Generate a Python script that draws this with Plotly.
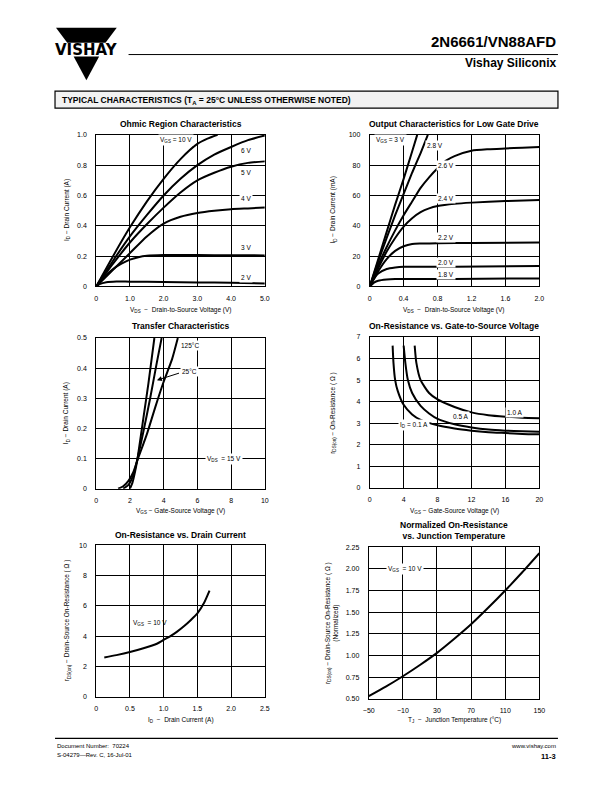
import plotly.graph_objects as go

# ---------------- DATA ----------------
# Ohmic region (VDS in V, ID in A)
ohm_vds_10 = [0, 0.5, 1.0, 1.5, 2.0, 2.5, 3.0, 3.3, 3.6]
ohm_id_10 = [0, 0.20, 0.39, 0.56, 0.71, 0.84, 0.94, 0.975, 1.0]
ohm_vds_6 = [0, 0.5, 1.0, 1.5, 2.0, 2.5, 3.0, 3.5, 4.0, 4.5, 5.0]
ohm_id_6 = [0, 0.17, 0.33, 0.47, 0.60, 0.71, 0.80, 0.87, 0.92, 0.965, 0.995]
ohm_vds_5 = [0, 0.5, 1.0, 1.5, 2.0, 2.5, 3.0, 3.5, 4.0, 4.5, 5.0]
ohm_id_5 = [0, 0.15, 0.29, 0.41, 0.52, 0.62, 0.70, 0.75, 0.79, 0.815, 0.825]
ohm_vds_4 = [0, 0.5, 1.0, 1.5, 2.0, 2.5, 3.0, 3.5, 4.0, 4.5, 5.0]
ohm_id_4 = [0, 0.11, 0.22, 0.33, 0.415, 0.46, 0.485, 0.50, 0.51, 0.515, 0.52]
ohm_vds_3 = [0, 0.25, 0.5, 0.75, 1.0, 1.25, 1.5, 2.0, 3.0, 4.0, 5.0]
ohm_id_3 = [0, 0.065, 0.115, 0.15, 0.177, 0.193, 0.202, 0.207, 0.207, 0.206, 0.205]
ohm_vds_2 = [0, 0.1, 0.3, 0.6, 1.0, 2.0, 3.0, 4.0, 5.0]
ohm_id_2 = [0, 0.015, 0.028, 0.033, 0.032, 0.03, 0.027, 0.024, 0.02]
ohm_labels = ["V<sub>GS</sub> = 10 V", "6 V", "5 V", "4 V", "3 V", "2 V"]
ohm_label_x = [2.37, 4.45, 4.45, 4.45, 4.45, 4.45]
ohm_label_y = [0.965, 0.895, 0.75, 0.58, 0.26, 0.06]

# Output characteristics, low gate drive (VDS in V, ID in mA)
out_vds_30 = [0, 0.1, 0.2, 0.3, 0.4, 0.5, 0.56]
out_id_30 = [0, 18, 36, 54, 71, 89, 100]
out_vds_28 = [0, 0.1, 0.2, 0.3, 0.4, 0.5, 0.6, 0.685]
out_id_28 = [0, 16.5, 32, 47, 61, 75, 88, 100]
out_vds_26 = [0, 0.1, 0.2, 0.3, 0.4, 0.5, 0.6, 0.7, 0.8, 0.9, 1.0, 1.2, 1.4, 1.6, 1.8, 2.0]
out_id_26 = [0, 14, 26, 37, 47, 56, 65, 72, 78, 83, 86, 89.5, 90.5, 91, 91.5, 92]
out_vds_24 = [0, 0.1, 0.2, 0.3, 0.4, 0.5, 0.6, 0.7, 0.8, 1.0, 1.2, 1.6, 2.0]
out_id_24 = [0, 12, 23, 32, 39.5, 45, 49, 51.5, 53, 54.5, 55.3, 56.3, 57]
out_vds_22 = [0, 0.1, 0.2, 0.3, 0.4, 0.5, 0.6, 0.8, 1.2, 2.0]
out_id_22 = [0, 10, 18, 23.5, 26.5, 28, 28.3, 28.5, 28.7, 29]
out_vds_20 = [0, 0.05, 0.1, 0.2, 0.3, 0.4, 1.0, 2.0]
out_id_20 = [0, 5, 8.5, 11.5, 12.5, 13, 13, 13.5]
out_vds_18 = [0, 0.05, 0.1, 0.2, 0.3, 1.0, 2.0]
out_id_18 = [0, 2.5, 3.8, 4.6, 4.9, 5.0, 5.3]
out_labels = ["V<sub>GS</sub> = 3 V", "2.8 V", "2.6 V", "2.4 V", "2.2 V", "2.0 V", "1.8 V"]
out_label_x = [0.24, 0.77, 0.90, 0.90, 0.90, 0.90, 0.90]
out_label_y = [96.5, 93, 80, 58, 32.5, 16, 8]

# Transfer characteristics (VGS in V, ID in A)
tr_vgs_m55 = [2.0, 2.15, 2.3, 2.45, 2.8, 3.1, 3.45]
tr_id_m55 = [0, 0.02, 0.055, 0.1, 0.235, 0.35, 0.5]
tr_vgs_25 = [1.6, 1.9, 2.2, 2.45, 2.8, 3.2, 3.6, 3.88]
tr_id_25 = [0, 0.012, 0.045, 0.1, 0.19, 0.30, 0.42, 0.5]
tr_vgs_125 = [1.3, 1.6, 1.9, 2.2, 2.45, 3.0, 3.5, 4.0, 4.5, 4.84]
tr_id_125 = [0, 0.008, 0.025, 0.055, 0.095, 0.18, 0.27, 0.355, 0.43, 0.5]

# On-resistance vs gate-source voltage (VGS in V, rDS in ohm)
rg_vgs_01 = [2.7, 2.8, 3.0, 3.3, 4.0, 5.0, 6.0, 8.0, 10, 12, 14, 16, 18, 20]
rg_r_01 = [6.6, 5.8, 5.0, 4.5, 3.85, 3.4, 3.15, 2.9, 2.75, 2.65, 2.58, 2.54, 2.5, 2.48]
rg_vgs_05 = [4.0, 4.2, 4.5, 5.0, 6.0, 7.0, 8.0, 10, 12, 14, 16, 18, 20]
rg_r_05 = [6.6, 5.8, 5.0, 4.4, 3.8, 3.45, 3.2, 2.95, 2.8, 2.7, 2.65, 2.62, 2.6]
rg_vgs_10 = [5.3, 5.5, 6.0, 7.0, 8.0, 10, 12, 14, 16, 18, 20]
rg_r_10 = [6.6, 5.8, 5.0, 4.4, 4.1, 3.75, 3.5, 3.37, 3.3, 3.25, 3.23]

# On-resistance vs drain current (ID in A, rDS in ohm)
rd_id = [0.12, 0.3, 0.5, 0.7, 0.9, 1.0, 1.1, 1.2, 1.3, 1.4, 1.5, 1.6, 1.68]
rd_r = [2.6, 2.75, 2.95, 3.2, 3.5, 3.75, 4.0, 4.3, 4.65, 5.05, 5.5, 6.2, 7.0]

# Normalized on-resistance vs junction temperature
nt_tj = [-50, -30, -10, 10, 30, 50, 70, 90, 110, 130, 150]
nt_r = [0.53, 0.64, 0.76, 0.89, 1.03, 1.19, 1.36, 1.55, 1.75, 1.96, 2.18]

# Tick labels
ohm_xt = [0, 1, 2, 3, 4, 5]; ohm_xl = ["0", "1.0", "2.0", "3.0", "4.0", "5.0"]
ohm_yt = [0, 0.2, 0.4, 0.6, 0.8, 1.0]; ohm_yl = ["0", "0.2", "0.4", "0.6", "0.8", "1.0"]
out_xt = [0, 0.4, 0.8, 1.2, 1.6, 2.0]; out_xl = ["0", "0.4", "0.8", "1.2", "1.6", "2.0"]
out_yt = [0, 20, 40, 60, 80, 100]; out_yl = ["0", "20", "40", "60", "80", "100"]
tr_xt = [0, 2, 4, 6, 8, 10]; tr_xl = ["0", "2", "4", "6", "8", "10"]
tr_yt = [0, 0.1, 0.2, 0.3, 0.4, 0.5]; tr_yl = ["0", "0.1", "0.2", "0.3", "0.4", "0.5"]
rg_xt = [0, 4, 8, 12, 16, 20]; rg_xl = ["0", "4", "8", "12", "16", "20"]
rg_yt = [0, 1, 2, 3, 4, 5, 6, 7]; rg_yl = ["0", "1", "2", "3", "4", "5", "6", "7"]
rd_xt = [0, 0.5, 1.0, 1.5, 2.0, 2.5]; rd_xl = ["0", "0.5", "1.0", "1.5", "2.0", "2.5"]
rd_yt = [0, 2, 4, 6, 8, 10]; rd_yl = ["0", "2", "4", "6", "8", "10"]
nt_xt = [-50, -10, 30, 70, 110, 150]; nt_xl = ["\u221250", "\u221210", "30", "70", "110", "150"]
nt_yt = [0.5, 0.75, 1.0, 1.25, 1.5, 1.75, 2.0, 2.25]
nt_yl = ["0.50", "0.75", "1.00", "1.25", "1.50", "1.75", "2.00", "2.25"]

# ---------------- LAYOUT HELPERS ----------------
W, H = 612, 792
FONT = "Liberation Sans, Arial, Helvetica, sans-serif"
NARROW = "Liberation Sans Narrow, Liberation Sans, Arial, sans-serif"


def X(px):
    return px / W


def Y(py):
    return 1 - py / H


fig = go.Figure()

panels = [
    ("1", (92, 264), (132, 285), [0, 5], [0, 1.0], ohm_xt, ohm_xl, ohm_yt, ohm_yl),
    ("2", (371, 544), (132, 285), [0, 2], [0, 100], out_xt, out_xl, out_yt, out_yl),
    ("3", (92, 264), (337, 489), [0, 10], [0, 0.5], tr_xt, tr_xl, tr_yt, tr_yl),
    ("4", (371, 544), (336, 488), [0, 20], [0, 7], rg_xt, rg_xl, rg_yt, rg_yl),
    ("5", (92, 264), (546, 699), [0, 2.5], [0, 10], rd_xt, rd_xl, rd_yt, rd_yl),
    ("6", (370, 544), (548, 701), [-50, 150], [0.5, 2.25], nt_xt, nt_xl, nt_yt, nt_yl),
]

layout_axes = {}
for name, xp, yp, xr, yr, xt, xl, yt, yl in panels:
    xk = "xaxis" if name == "1" else "xaxis" + name
    yk = "yaxis" if name == "1" else "yaxis" + name
    layout_axes[xk] = dict(
        domain=[X(xp[0]), X(xp[1])], anchor="y" if name == "1" else "y" + name,
        range=xr, tickvals=xt, ticktext=xl, showgrid=True, gridcolor="black", gridwidth=1,
        showline=True, linecolor="black", linewidth=1, mirror=True, zeroline=False,
        ticks="", tickfont=dict(family=FONT, size=7, color="black"), ticklabelstandoff=5,
        fixedrange=True,
    )
    layout_axes[yk] = dict(
        domain=[Y(yp[1]), Y(yp[0])], anchor="x" if name == "1" else "x" + name,
        range=yr, tickvals=yt, ticktext=yl, showgrid=True, gridcolor="black", gridwidth=1,
        showline=True, linecolor="black", linewidth=1, mirror=True, zeroline=False,
        ticks="", tickfont=dict(family=FONT, size=7, color="black"), ticklabelstandoff=7,
        fixedrange=True,
    )


def add_line(x, y, ax="1", width=2.0):
    xa = "x" if ax == "1" else "x" + ax
    ya = "y" if ax == "1" else "y" + ax
    fig.add_trace(go.Scatter(x=x, y=y, xaxis=xa, yaxis=ya, mode="lines",
                             line=dict(color="black", width=width, shape="spline", smoothing=0.6),
                             showlegend=False, hoverinfo="skip"))


for xs, ys in [(ohm_vds_10, ohm_id_10), (ohm_vds_6, ohm_id_6), (ohm_vds_5, ohm_id_5),
               (ohm_vds_4, ohm_id_4), (ohm_vds_3, ohm_id_3), (ohm_vds_2, ohm_id_2)]:
    add_line(xs, ys, "1")
for xs, ys in [(out_vds_30, out_id_30), (out_vds_28, out_id_28), (out_vds_26, out_id_26),
               (out_vds_24, out_id_24), (out_vds_22, out_id_22), (out_vds_20, out_id_20),
               (out_vds_18, out_id_18)]:
    add_line(xs, ys, "2")
for xs, ys in [(tr_vgs_m55, tr_id_m55), (tr_vgs_25, tr_id_25), (tr_vgs_125, tr_id_125)]:
    add_line(xs, ys, "3")
for xs, ys in [(rg_vgs_01, rg_r_01), (rg_vgs_05, rg_r_05), (rg_vgs_10, rg_r_10)]:
    add_line(xs, ys, "4")
add_line(rd_id, rd_r, "5")
add_line(nt_tj, nt_r, "6")

ann = []


def lab(text, x, y, ax, size=6.5, bg="white", **kw):
    xa = "x" if ax == "1" else "x" + ax
    ya = "y" if ax == "1" else "y" + ax
    d = dict(text=text, x=x, y=y, xref=xa, yref=ya, showarrow=False,
             font=dict(family=FONT, size=size, color="black"), bgcolor=bg, borderpad=1)
    d.update(kw)
    ann.append(d)


for t, lx, ly in zip(ohm_labels, ohm_label_x, ohm_label_y):
    lab(t, lx, ly, "1")
for t, lx, ly in zip(out_labels, out_label_x, out_label_y):
    lab(t, lx, ly, "2")
lab("125\u00b0C", 5.55, 0.475, "3")
lab("25\u00b0C", 5.55, 0.39, "3")
ann.append(dict(x=3.6, y=0.36, xref="x3", yref="y3", ax=5.0, ay=0.385, axref="x3", ayref="y3",
                showarrow=True, arrowhead=2, arrowsize=1.0, arrowwidth=1, arrowcolor="black", text=""))
lab("V<sub>DS</sub>  = 15 V", 7.6, 0.1, "3")
lab("1.0 A", 17.1, 3.5, "4")
lab("0.5 A", 10.7, 3.3, "4")
lab("I<sub>D</sub> = 0.1 A", 5.2, 2.9, "4")
lab("V<sub>GS</sub>  = 10 V", 0.8, 4.9, "5", bg="rgba(0,0,0,0)")
lab("V<sub>GS</sub>  = 10 V", -8, 2.0, "6")


def pann(text, px, py, size=7, bold=False, family=FONT, angle=0, xanchor="center", yanchor="middle", align="center"):
    t = "<b>" + text + "</b>" if bold else text
    ann.append(dict(text=t, x=X(px), y=Y(py), xref="paper", yref="paper", showarrow=False,
                    font=dict(family=family, size=size, color="black"), textangle=angle,
                    xanchor=xanchor, yanchor=yanchor, align=align))


# chart titles
pann("Ohmic Region Characteristics", 178, 121, size=8.5, bold=True, family=NARROW)
pann("Output Characteristics for Low Gate Drive", 457, 121, size=8.5, bold=True, family=NARROW)
pann("Transfer Characteristics", 178, 325, size=8.5, bold=True, family=NARROW)
pann("On-Resistance vs. Gate-to-Source Voltage", 457, 325, size=8.5, bold=True, family=NARROW)
pann("On-Resistance vs. Drain Current", 178, 536, size=8.5, bold=True, family=NARROW)
pann("Normalized On-Resistance<br>vs. Junction Temperature", 457, 531, size=8.5, bold=True, family=NARROW)

# axis titles
xt_ds = "V<sub>DS</sub>  \u2212  Drain-to-Source Voltage (V)"
pann(xt_ds, 178, 309, size=6.5)
pann(xt_ds, 457, 309, size=6.5)
pann("V<sub>GS</sub> \u2212 Gate-Source Voltage (V)", 178, 512, size=6.5)
pann("V<sub>GS</sub> \u2212 Gate-Source Voltage (V)", 457, 512, size=6.5)
pann("I<sub>D</sub>  \u2212  Drain Current (A)", 178, 722, size=6.5)
pann("T<sub>J</sub>  \u2212  Junction Temperature (\u00b0C)", 457, 722, size=6.5)
pann("I<sub>D</sub> \u2212 Drain Current (A)", 62, 208, size=6.5, angle=-90)
pann("I<sub>D</sub> \u2212 Drain Current (mA)", 334, 208, size=6.5, angle=-90)
pann("I<sub>D</sub> \u2212 Drain Current (A)", 62, 413, size=6.5, angle=-90)
pann("r<sub>DS(on)</sub> \u2212 On-Resistance ( \u03a9 )", 334, 412, size=6.5, angle=-90)
pann("r<sub>DS(on)</sub> \u2212 Drain-Source On-Resistance ( \u03a9 )", 62, 622, size=6.5, angle=-90)
pann("r<sub>DS(on)</sub> \u2212 Drain-Source On-Resistance ( \u03a9 )<br>(Normalized)", 333, 624, size=6.5, angle=-90)

# header
pann("2N6661/VN88AFD", 563, 38, size=15, bold=True, xanchor="right")
pann("Vishay Siliconix", 563, 60, size=12, bold=True, xanchor="right")
pann("VISHAY", 82, 46, size=15, bold=True, family="DejaVu Sans, Liberation Sans")
pann("TYPICAL CHARACTERISTICS (T<sub>A</sub> = 25\u00b0C UNLESS OTHERWISE NOTED)", 55, 97, size=8.5,
     bold=True, family=FONT, xanchor="left")

# footer
pann("Document Number:  70224", 50, 749, size=6, xanchor="left")
pann("S-04279\u2014Rev. C, 16-Jul-01", 50, 758, size=6, xanchor="left")
pann("www.vishay.com", 563, 749, size=6, xanchor="right")
pann("11-3", 563, 759, size=7.5, bold=True, xanchor="right")


def path(points):
    return "M " + " L ".join(f"{X(a):.5f},{Y(b):.5f}" for a, b in points) + " Z"


shapes = [
    dict(type="path", xref="paper", yref="paper",
         path=path([(51, 24), (113, 24), (101.5, 39), (62.5, 39)]), fillcolor="black", line=dict(width=0)),
    dict(type="path", xref="paper", yref="paper",
         path=path([(69, 53), (95, 53), (82, 77)]), fillcolor="black", line=dict(width=0)),
    dict(type="line", xref="paper", yref="paper", x0=X(125), x1=X(563), y0=Y(51), y1=Y(51),
         line=dict(color="black", width=1)),
    dict(type="rect", xref="paper", yref="paper", x0=X(50), x1=X(563), y0=Y(88), y1=Y(105),
         fillcolor="#f2f2f2", line=dict(color="black", width=1.2), layer="below"),
    dict(type="line", xref="paper", yref="paper", x0=X(50), x1=X(563), y0=Y(741), y1=Y(741),
         line=dict(color="black", width=1.2)),
]

fig.update_layout(
    width=W, height=H, margin=dict(l=0, r=0, t=0, b=0),
    paper_bgcolor="white", plot_bgcolor="white",
    font=dict(family=FONT, color="black"),
    annotations=ann, shapes=shapes, showlegend=False,
    **layout_axes,
)

fig.write_html("out.html", config={"displayModeBar": False},
               post_script="document.body.style.margin='0';document.body.style.padding='0';")
